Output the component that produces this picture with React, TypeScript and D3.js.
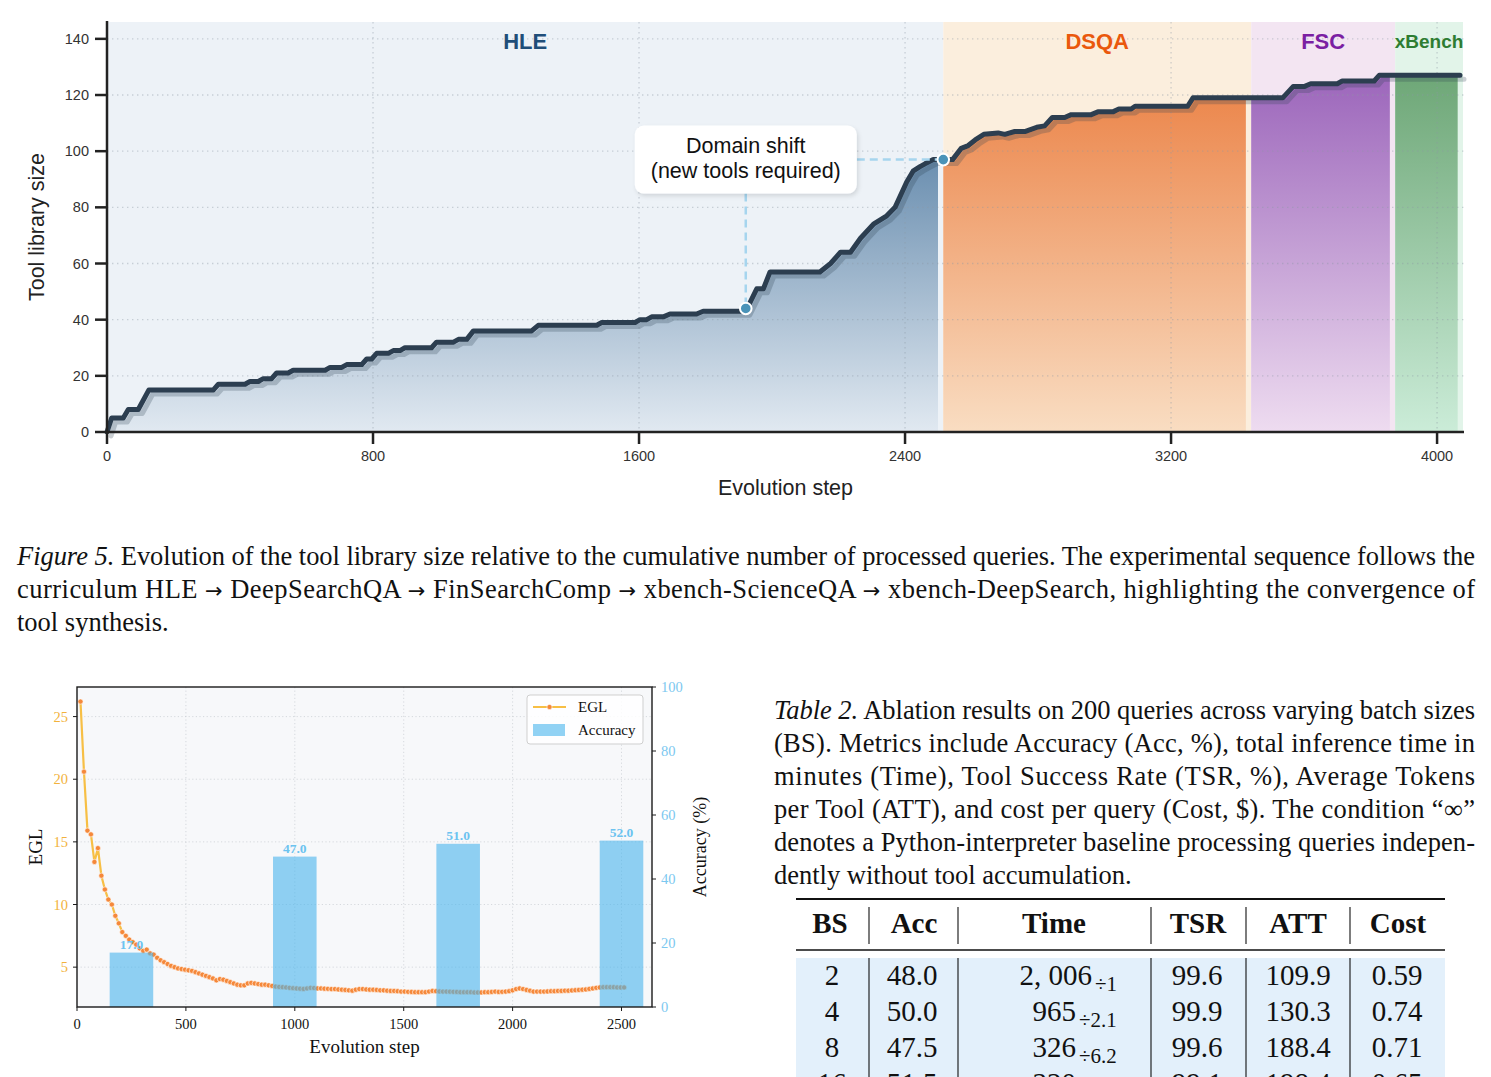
import React from "react";
import * as d3 from "d3";

const SANS = "'Liberation Sans', Arial, Helvetica, sans-serif";
const SERIF = "'Liberation Serif', 'Times New Roman', Times, serif";

// Figure 5: tool library size, vertices of the growth curve [step, size]
const libraryCurve: [number, number][] = [
  [0, 0], [14, 5], [49, 5], [64, 8], [94, 8], [126, 15], [320, 15], [335, 17],
  [415, 17], [430, 18], [455, 18], [470, 19], [495, 19], [510, 21], [545, 21],
  [560, 22], [656, 22], [671, 23], [706, 23], [721, 24], [766, 24], [781, 26],
  [796, 26], [811, 28], [846, 28], [861, 29], [881, 29], [896, 30], [976, 30],
  [991, 32], [1042, 32], [1057, 33], [1082, 33], [1102, 36], [1277, 36],
  [1297, 38], [1473, 38], [1488, 39], [1588, 39], [1603, 40], [1623, 40],
  [1638, 41], [1673, 41], [1693, 42], [1773, 42], [1793, 43], [1921, 43],
  [1954, 51], [1974, 51], [1994, 57], [2144, 57], [2176, 60], [2206, 64],
  [2236, 64], [2266, 69], [2305, 74], [2345, 77], [2370, 80], [2405, 89],
  [2425, 93], [2445, 94.5], [2460, 95.5], [2485, 97], [2514, 97], [2543, 97],
  [2569, 101], [2590, 102], [2611, 104], [2637, 106], [2680, 106.5],
  [2700, 106], [2730, 107], [2760, 107], [2796, 108.5], [2820, 109],
  [2843, 112], [2880, 112], [2900, 113], [2960, 113], [2980, 114], [3025, 114],
  [3043, 115], [3080, 115], [3092, 116], [3250, 116], [3266, 119], [3536, 119],
  [3567, 123], [3600, 123], [3620, 124], [3700, 124], [3715, 125], [3811, 125],
  [3826, 127], [4069, 127],
];
const domainNames = ["HLE", "DSQA", "FSC", "xBench"];
const domainEdges = [0, 2515, 3441, 3874, 4078];
const shiftPoints: [number, number][] = [[1921, 44], [2515, 97]];
const shiftNote = ["Domain shift", "(new tools required)"];
const stepTicks = [0, 800, 1600, 2400, 3200, 4000];
const sizeTicks = [0, 20, 40, 60, 80, 100, 120, 140];

// EGL, sampled every 16 evolution steps
const eglEvery = 16;
const eglValues = [
  26.2, 20.6, 15.9, 15.6, 13.4, 14.5, 12.3, 11.2, 10.4, 10.0,
  9.1, 8.5, 7.8, 7.5, 7.2, 7.0, 6.8, 6.5, 6.3, 6.4,
  6.1, 6.0, 5.75, 5.55, 5.4, 5.25, 5.1, 5.0, 4.9, 4.85,
  4.8, 4.75, 4.7, 4.6, 4.5, 4.4, 4.3, 4.2, 4.1, 3.95,
  4.05, 4.0, 3.9, 3.8, 3.7, 3.6, 3.55, 3.55, 3.7, 3.75,
  3.7, 3.65, 3.6, 3.6, 3.55, 3.5, 3.45, 3.42, 3.4, 3.38,
  3.35, 3.32, 3.3, 3.28, 3.26, 3.3, 3.35, 3.33, 3.3, 3.3,
  3.28, 3.27, 3.25, 3.25, 3.22, 3.2, 3.18, 3.15, 3.12, 3.2,
  3.25, 3.25, 3.22, 3.2, 3.2, 3.18, 3.15, 3.15, 3.12, 3.1,
  3.1, 3.08, 3.05, 3.05, 3.03, 3.02, 3.0, 3.0, 3.0, 3.0,
  3.05, 3.1, 3.08, 3.06, 3.05, 3.05, 3.04, 3.03, 3.02, 3.0,
  3.0, 3.0, 3.0, 2.98, 2.98, 2.98, 3.0, 3.0, 3.02, 3.05,
  3.02, 3.03, 3.05, 3.08, 3.15, 3.25, 3.3, 3.25, 3.18, 3.12,
  3.05, 3.05, 3.05, 3.05, 3.06, 3.08, 3.08, 3.1, 3.1, 3.12,
  3.12, 3.14, 3.16, 3.18, 3.2, 3.22, 3.26, 3.3, 3.35, 3.38,
  3.4, 3.4, 3.4, 3.4, 3.38, 3.38, 3.38,
];
const accSteps = [250, 1000, 1750, 2500];
const accValues = [17.0, 47.0, 51.0, 52.0];
const accBarWidth = 200;
const eglStepTicks = [0, 500, 1000, 1500, 2000, 2500];
const eglTicks = [5, 10, 15, 20, 25];
const accTicks = [0, 20, 40, 60, 80, 100];

// Table 2
const tableHeader = ["BS", "Acc", "Time", "TSR", "ATT", "Cost"];
const batchSizes = ["2", "4", "8", "16"];
const accCol = ["48.0", "50.0", "47.5", "51.5"];
const timeCol = ["2, 006", "965", "326", "320"];
const speedupCol = ["÷1", "÷2.1", "÷6.2", "÷6.3"];
const tsrCol = ["99.6", "99.9", "99.6", "99.1"];
const attCol = ["109.9", "130.3", "188.4", "198.4"];
const costCol = ["0.59", "0.74", "0.71", "0.65"];

const figCaption = [
  "Evolution of the tool library size relative to the cumulative number of processed queries. The experimental sequence follows the",
  "curriculum HLE → DeepSearchQA → FinSearchComp → xbench-ScienceQA → xbench-DeepSearch, highlighting the convergence of",
  "tool synthesis.",
];
const tableCaption = [
  "Ablation results on 200 queries across varying batch sizes",
  "(BS). Metrics include Accuracy (Acc, %), total inference time in",
  "minutes (Time), Tool Success Rate (TSR, %), Average Tokens",
  "per Tool (ATT), and cost per query (Cost, $). The condition “∞”",
  "denotes a Python-interpreter baseline processing queries indepen-",
  "dently without tool accumulation.",
];

const domainStyle = [
  { label: "#1f4e79", bg: "#edf2f7", top: "#6b8fb0", bottom: "#e1e9f1", size: 22 },
  { label: "#ea580c", bg: "#fbeedd", top: "#ec884e", bottom: "#f9ddc2", size: 22 },
  { label: "#7b1fa2", bg: "#f3e5f2", top: "#9c66bb", bottom: "#eedcf0", size: 22 },
  { label: "#2e7d32", bg: "#e2f4e9", top: "#6ea777", bottom: "#cbecd8", size: 19 },
];

function LibraryChart() {
  const L = 107, R = 1464, T = 22, B = 432;
  const x = d3.scaleLinear().domain([0, 4081]).range([L, R]);
  const y = d3.scaleLinear().domain([0, 146]).range([B, T]);
  const line = d3.line<[number, number]>().x((d) => x(d[0])).y((d) => y(d[1]));
  const area = d3
    .area<[number, number]>()
    .x((d) => x(d[0]))
    .y0(y(0))
    .y1((d) => y(d[1]));
  const fillGap = 16;
  const areaPath = area(libraryCurve) || "";
  const linePath = line(libraryCurve) || "";

  const [p1, p2] = shiftPoints;
  const boxW = 222, boxH = 68;
  const boxCx = x(p1[0]);
  const boxCy = y(p2[1]);

  return (
    <g>
      <defs>
        {domainNames.map((name, i) => {
          const s = domainEdges[i];
          const e = domainEdges[i + 1];
          const top = d3.max(libraryCurve.filter((d) => d[0] >= s && d[0] <= e), (d) => d[1]) || 0;
          return (
            <g key={name}>
              <linearGradient
                id={`lib-grad-${i}`}
                gradientUnits="userSpaceOnUse"
                x1={0}
                x2={0}
                y1={y(top)}
                y2={y(0)}
              >
                <stop offset="0" stopColor={domainStyle[i].top} />
                <stop offset="1" stopColor={domainStyle[i].bottom} />
              </linearGradient>
              <clipPath id={`lib-clip-${i}`}>
                <rect x={x(s)} y={T} width={x(e - fillGap) - x(s)} height={B - T} />
              </clipPath>
            </g>
          );
        })}
        <filter id="note-shadow" x="-20%" y="-30%" width="140%" height="170%">
          <feDropShadow dx="1.5" dy="2.5" stdDeviation="2" floodColor="#000" floodOpacity="0.12" />
        </filter>
      </defs>

      {domainNames.map((name, i) => (
        <rect
          key={`bg-${name}`}
          x={x(domainEdges[i])}
          y={T}
          width={x(domainEdges[i + 1]) - x(domainEdges[i])}
          height={B - T}
          fill={domainStyle[i].bg}
        />
      ))}

      {domainNames.map((name, i) => (
        <path
          key={`fill-${name}`}
          d={areaPath}
          fill={`url(#lib-grad-${i})`}
          clipPath={`url(#lib-clip-${i})`}
        />
      ))}

      {/* dotted grid */}
      <g stroke="#8c99a6" strokeOpacity={0.4} strokeWidth={1.3} strokeDasharray="1.4 3.6">
        {sizeTicks.slice(1).map((t) => (
          <line key={`gy${t}`} x1={L} x2={R} y1={y(t)} y2={y(t)} />
        ))}
        {stepTicks.slice(1).map((t) => (
          <line key={`gx${t}`} x1={x(t)} x2={x(t)} y1={T} y2={B} />
        ))}
      </g>

      {domainNames.map((name, i) => (
        <text
          key={`lbl-${name}`}
          x={x((domainEdges[i] + domainEdges[i + 1]) / 2)}
          y={y(139)}
          textAnchor="middle"
          dominantBaseline="central"
          fontFamily={SANS}
          fontWeight="bold"
          fontSize={domainStyle[i].size}
          fill={domainStyle[i].label}
        >
          {name}
        </text>
      ))}

      {/* growth curve with soft offset shadow */}
      <path
        d={linePath}
        transform="translate(4,4)"
        fill="none"
        stroke="#2c3e50"
        strokeOpacity={0.25}
        strokeWidth={5}
        strokeLinejoin="round"
        strokeLinecap="round"
      />
      <path
        d={linePath}
        fill="none"
        stroke="#2c3e50"
        strokeWidth={5}
        strokeLinejoin="round"
        strokeLinecap="round"
      />

      {/* domain shift annotation */}
      <g stroke="#a6d5ee" strokeWidth={2.5} strokeDasharray="8 5" fill="none">
        <line x1={boxCx} x2={x(p1[0])} y1={boxCy + boxH / 2} y2={y(p1[1])} />
        <line x1={boxCx + boxW / 2} x2={x(p2[0])} y1={y(p2[1])} y2={y(p2[1])} />
      </g>
      <rect
        x={boxCx - boxW / 2}
        y={boxCy - boxH / 2}
        width={boxW}
        height={boxH}
        rx={9}
        fill="#ffffff"
        filter="url(#note-shadow)"
      />
      {shiftNote.map((s, i) => (
        <text
          key={s}
          x={boxCx}
          y={boxCy - 14 + i * 25}
          textAnchor="middle"
          dominantBaseline="central"
          fontFamily={SANS}
          fontSize={21.5}
          fill="#111"
        >
          {s}
        </text>
      ))}
      {shiftPoints.map((p, i) => (
        <circle key={i} cx={x(p[0])} cy={y(p[1])} r={5.8} fill="#4a93b8" stroke="#fff" strokeWidth={2} />
      ))}

      {/* axes */}
      <g stroke="#222" strokeWidth={2.5}>
        <line x1={L} x2={L} y1={T - 1} y2={B} />
        <line x1={L} x2={R} y1={B} y2={B} />
        {sizeTicks.map((t) => (
          <line key={`ty${t}`} x1={L - 12} x2={L} y1={y(t)} y2={y(t)} />
        ))}
        {stepTicks.map((t) => (
          <line key={`tx${t}`} x1={x(t)} x2={x(t)} y1={B} y2={B + 12} />
        ))}
      </g>
      <g fontFamily={SANS} fontSize={14.5} fill="#333">
        {sizeTicks.map((t) => (
          <text key={`ly${t}`} x={L - 18} y={y(t)} textAnchor="end" dominantBaseline="central">
            {t}
          </text>
        ))}
        {stepTicks.map((t) => (
          <text key={`lx${t}`} x={x(t)} y={B + 24} textAnchor="middle" dominantBaseline="central">
            {t}
          </text>
        ))}
      </g>
      <text
        x={(L + R) / 2}
        y={488}
        textAnchor="middle"
        dominantBaseline="central"
        fontFamily={SANS}
        fontSize={21.5}
        fill="#222"
      >
        Evolution step
      </text>
      <text
        transform={`translate(37,${(T + B) / 2}) rotate(-90)`}
        textAnchor="middle"
        dominantBaseline="central"
        fontFamily={SANS}
        fontSize={21.5}
        fill="#222"
      >
        Tool library size
      </text>
    </g>
  );
}

function EglChart() {
  const L = 77, R = 652, T = 687, B = 1007;
  const x = d3.scaleLinear().domain([0, 2640]).range([L, R]);
  const pts: [number, number][] = eglValues.map((v, i) => [(i + 1) * eglEvery, v]);
  const [lo, hi] = d3.extent(eglValues) as [number, number];
  const pad = (hi - lo) * 0.05;
  const yE = d3.scaleLinear().domain([lo - pad, hi + pad]).range([B, T]);
  const yA = d3.scaleLinear().domain([0, 100]).range([B, T]);
  const line = d3.line<[number, number]>().x((d) => x(d[0])).y((d) => yE(d[1]));

  const lineColor = "#f7bf45";
  const dotColor = "#f5883a";
  const barColor = "#48b4ed";
  const eglTickColor = "#f2b23c";
  const accTickColor = "#7cc8f0";

  return (
    <g>
      <rect x={L} y={T} width={R - L} height={B - T} fill="#f7f8fa" />
      <g stroke="#c9cdd2" strokeOpacity={0.8} strokeWidth={0.9} strokeDasharray="1.2 2.4">
        {eglTicks.map((t) => (
          <line key={`gy${t}`} x1={L} x2={R} y1={yE(t)} y2={yE(t)} />
        ))}
        {eglStepTicks.slice(1).map((t) => (
          <line key={`gx${t}`} x1={x(t)} x2={x(t)} y1={T} y2={B} />
        ))}
      </g>

      <path d={line(pts) || ""} fill="none" stroke={lineColor} strokeWidth={2.2} />
      {pts.map((p, i) => (
        <circle key={i} cx={x(p[0])} cy={yE(p[1])} r={2.6} fill={dotColor} stroke="#fff" strokeWidth={0.6} />
      ))}

      {accSteps.map((s, i) => (
        <g key={`bar${s}`}>
          <rect
            x={x(s - accBarWidth / 2)}
            y={yA(accValues[i])}
            width={x(s + accBarWidth / 2) - x(s - accBarWidth / 2)}
            height={yA(0) - yA(accValues[i])}
            fill={barColor}
            fillOpacity={0.6}
          />
          <text
            x={x(s)}
            y={yA(accValues[i]) - 4}
            textAnchor="middle"
            fontFamily={SERIF}
            fontWeight="bold"
            fontSize={13.5}
            fill="#6cc3f0"
          >
            {accValues[i].toFixed(1)}
          </text>
        </g>
      ))}

      <rect x={L} y={T} width={R - L} height={B - T} fill="none" stroke="#1a1a1a" strokeWidth={1.4} />
      <g stroke="#1a1a1a" strokeWidth={1}>
        {eglTicks.map((t) => (
          <line key={`tl${t}`} x1={L - 4} x2={L} y1={yE(t)} y2={yE(t)} />
        ))}
        {accTicks.map((t) => (
          <line key={`tr${t}`} x1={R} x2={R + 4} y1={yA(t)} y2={yA(t)} />
        ))}
        {eglStepTicks.map((t) => (
          <line key={`tb${t}`} x1={x(t)} x2={x(t)} y1={B} y2={B + 4} />
        ))}
      </g>
      <g fontFamily={SERIF} fontSize={14.5}>
        {eglTicks.map((t) => (
          <text key={`ll${t}`} x={L - 9} y={yE(t)} textAnchor="end" dominantBaseline="central" fill={eglTickColor}>
            {t}
          </text>
        ))}
        {accTicks.map((t) => (
          <text key={`lr${t}`} x={R + 9} y={yA(t)} textAnchor="start" dominantBaseline="central" fill={accTickColor}>
            {t}
          </text>
        ))}
        {eglStepTicks.map((t) => (
          <text key={`lb${t}`} x={x(t)} y={B + 17} textAnchor="middle" dominantBaseline="central" fill="#111">
            {t}
          </text>
        ))}
      </g>
      <text x={(L + R) / 2} y={1046} textAnchor="middle" dominantBaseline="central" fontFamily={SERIF} fontSize={19} fill="#111">
        Evolution step
      </text>
      <text
        transform={`translate(35,${(T + B) / 2}) rotate(-90)`}
        textAnchor="middle"
        dominantBaseline="central"
        fontFamily={SERIF}
        fontSize={19}
        fill="#111"
      >
        EGL
      </text>
      <text
        transform={`translate(700,${(T + B) / 2}) rotate(-90)`}
        textAnchor="middle"
        dominantBaseline="central"
        fontFamily={SERIF}
        fontSize={18}
        fill="#111"
      >
        Accuracy (%)
      </text>

      {/* legend */}
      <g>
        <rect x={527} y={695} width={116} height={49} rx={3} fill="#fff" fillOpacity={0.85} stroke="#cfcfcf" strokeWidth={1} />
        <line x1={533} x2={566} y1={707} y2={707} stroke={lineColor} strokeWidth={2.2} />
        <circle cx={549.5} cy={707} r={2.6} fill={dotColor} stroke="#fff" strokeWidth={0.6} />
        <rect x={533} y={724} width={32} height={12} fill={barColor} fillOpacity={0.6} />
        <text x={578} y={707} dominantBaseline="central" fontFamily={SERIF} fontSize={15} fill="#111">
          EGL
        </text>
        <text x={578} y={730} dominantBaseline="central" fontFamily={SERIF} fontSize={15} fill="#111">
          Accuracy
        </text>
      </g>
    </g>
  );
}

function AblationTable() {
  const left = 796, right = 1445;
  const seps = [869, 958, 1151, 1246, 1350];
  const headerX = [830, 914, 1054, 1198, 1298, 1398];
  const colX = [832, 912, 0, 1197, 1298, 1397];
  const rowY = [985, 1021, 1057, 1093];
  const timeEnd = [1092, 1076, 1076, 1076];
  const cols = [batchSizes, accCol, timeCol, tsrCol, attCol, costCol];
  return (
    <g fontFamily={SERIF} fill="#111">
      <rect x={left} y={958} width={right - left} height={140} fill="#e3f0fb" />
      <line x1={left} x2={right} y1={899} y2={899} stroke="#111" strokeWidth={2} />
      <line x1={left} x2={right} y1={950} y2={950} stroke="#111" strokeWidth={1.5} />
      <g stroke="#111" strokeWidth={1.1}>
        {seps.map((s) => (
          <g key={s}>
            <line x1={s} x2={s} y1={907} y2={944} />
            <line x1={s} x2={s} y1={958} y2={1100} />
          </g>
        ))}
      </g>
      {tableHeader.map((h, i) => (
        <text key={h} x={headerX[i]} y={933} textAnchor="middle" fontWeight="bold" fontSize={29}>
          {h}
        </text>
      ))}
      {rowY.map((ry, r) => (
        <g key={r} fontSize={29}>
          {cols.map((c, ci) =>
            ci === 2 ? (
              <g key={ci}>
                <text x={timeEnd[r]} y={ry} textAnchor="end">
                  {c[r]}
                </text>
                <text x={timeEnd[r] + 3} y={ry + 6} fontSize={21}>
                  {speedupCol[r]}
                </text>
              </g>
            ) : (
              <text key={ci} x={colX[ci]} y={ry} textAnchor="middle">
                {c[r]}
              </text>
            )
          )}
        </g>
      ))}
    </g>
  );
}

// caption line: math arrows set a little larger, as in the typeset text
function withArrows(s: string) {
  const parts = s.split("→");
  return parts.map((p, i) => (
    <React.Fragment key={i}>
      {p}
      {i < parts.length - 1 && (
        <tspan fontFamily="'DejaVu Sans', sans-serif" fontSize={21}>
          →
        </tspan>
      )}
    </React.Fragment>
  ));
}

function Captions() {
  return (
    <g fontFamily={SERIF} fontSize={26.5} fill="#111">
      {figCaption.map((s, i) => (
        <text
          key={`f${i}`}
          x={17}
          y={565 + i * 33}
          {...(i < 2 ? { textLength: 1458, lengthAdjust: "spacing" } : {})}
        >
          {i === 0 && <tspan fontStyle="italic">Figure 5.</tspan>}
          {i === 0 ? " " + s : withArrows(s)}
        </text>
      ))}
      {tableCaption.map((s, i) => (
        <text
          key={`t${i}`}
          x={774}
          y={719 + i * 33}
          {...(i < 5 ? { textLength: 701, lengthAdjust: "spacing" } : {})}
        >
          {i === 0 && <tspan fontStyle="italic">Table 2.</tspan>}
          {i === 0 ? " " + s : s}
        </text>
      ))}
    </g>
  );
}

export default function App() {
  return (
    <svg
      width={1491}
      height={1077}
      viewBox="0 0 1491 1077"
      style={{ position: "absolute", left: 0, top: 0, background: "#fff", overflow: "hidden" }}
    >
      <rect width={1491} height={1077} fill="#fff" />
      <LibraryChart />
      <Captions />
      <EglChart />
      <AblationTable />
    </svg>
  );
}
